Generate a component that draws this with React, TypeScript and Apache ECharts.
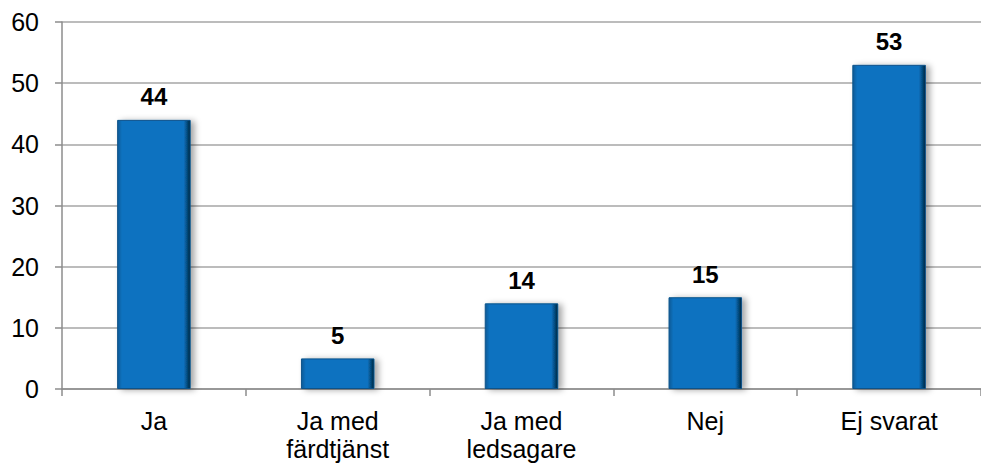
import React, { useEffect, useRef } from "react";
import * as echarts from "echarts";

const categories = ["Ja", "Ja med\nfärdtjänst", "Ja med\nledsagare", "Nej", "Ej svarat"];
const values = [44, 5, 14, 15, 53];
const yMax = 60;
const yStep = 10;

export default function App() {
  const ref = useRef<HTMLDivElement>(null);
  useEffect(() => {
    if (!ref.current) return;
    const chart = echarts.init(ref.current, undefined, { renderer: "svg" });
    const font = "Arial, 'Liberation Sans', sans-serif";
    chart.setOption({
      animation: false,
      grid: { left: 62, right: -9, top: 22, bottom: 75, containLabel: false },
      xAxis: {
        type: "category",
        data: categories,
        axisLine: { lineStyle: { color: "#8c8c8c", width: 1.5 } },
        axisTick: { show: true, length: 7, lineStyle: { color: "#8c8c8c", width: 1.5 } },
        axisLabel: {
          color: "#000",
          fontSize: 25,
          fontFamily: font,
          margin: 18,
          lineHeight: 28,
          interval: 0,
        },
      },
      yAxis: {
        type: "value",
        min: 0,
        max: yMax,
        interval: yStep,
        axisLine: { show: true, lineStyle: { color: "#8c8c8c", width: 1.5 } },
        axisTick: { show: true, length: 7, lineStyle: { color: "#8c8c8c", width: 1.5 } },
        splitLine: { lineStyle: { color: "#a6a6a6", width: 1.5 } },
        axisLabel: { color: "#000", fontSize: 25, fontFamily: font, margin: 23 },
      },
      series: [
        {
          type: "bar",
          data: values,
          barWidth: "40%",
          itemStyle: {
            color: {
              type: "linear",
              x: 0,
              y: 0,
              x2: 1,
              y2: 0,
              colorStops: [
                { offset: 0, color: "#0a5a96" },
                { offset: 0.06, color: "#0872c0" },
                { offset: 0.91, color: "#0872c0" },
                { offset: 0.96, color: "#064a7c" },
                { offset: 1, color: "#03243c" },
              ],
            },
            borderColor: "#09528a",
            borderWidth: 1,
            shadowColor: "rgba(0,0,0,0.35)",
            shadowBlur: 6,
            shadowOffsetX: 4,
            shadowOffsetY: 1,
          },
          label: {
            show: true,
            position: "top",
            distance: 11,
            color: "#000",
            fontSize: 24,
            fontWeight: "bold",
            fontFamily: font,
          },
        },
      ],
    });
    return () => chart.dispose();
  }, []);
  return <div ref={ref} style={{ width: 981, height: 464, position: "absolute", left: 0, top: 0 }} />;
}
